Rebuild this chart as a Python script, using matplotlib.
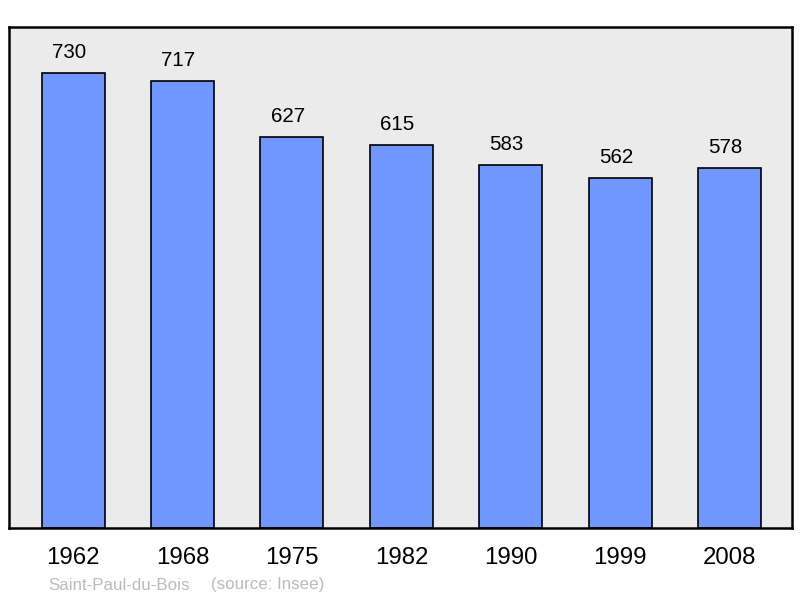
import matplotlib.pyplot as plt

years = ['1962', '1968', '1975', '1982', '1990', '1999', '2008']
population = [730, 717, 627, 615, 583, 562, 578]
commune = 'Saint-Paul-du-Bois'
source = '(source: Insee)'

plt.rcParams['font.family'] = ['Liberation Sans', 'DejaVu Sans']

fig = plt.figure(figsize=(8, 5.98), dpi=100)
ax = fig.add_axes([9 / 800, 1 - 528 / 598, 783 / 800, 501 / 598])
ax.set_facecolor('#ebebeb')

x = list(range(len(years)))
bars = ax.bar(x, population, width=0.576, color='#7096ff',
              edgecolor='black', linewidth=1.2, zorder=2)

# labels sit slightly left of bar centre, as in the original
for bar, val in zip(bars, population):
    ax.text(bar.get_x() + bar.get_width() / 2 - 0.037, val + 33, str(val),
            ha='center', va='center', fontsize=14.8, color='black')

ax.set_xlim(-0.585, 6.57)
ax.set_ylim(0, 804)
ax.set_yticks([])
ax.set_xticks(x)
ax.set_xticklabels(years, fontsize=17.3)
ax.tick_params(axis='x', length=0, pad=14)

for spine in ax.spines.values():
    spine.set_linewidth(1.8)
    spine.set_color('black')

fig.text(48 / 800, 1 - 585 / 598, commune,
         fontsize=12.2, color='#bbbbbb', ha='left', va='center')
fig.text(211 / 800, 1 - 585 / 598, source,
         fontsize=12.2, color='#bbbbbb', ha='left', va='center')

fig.savefig('out.png', dpi=100)
